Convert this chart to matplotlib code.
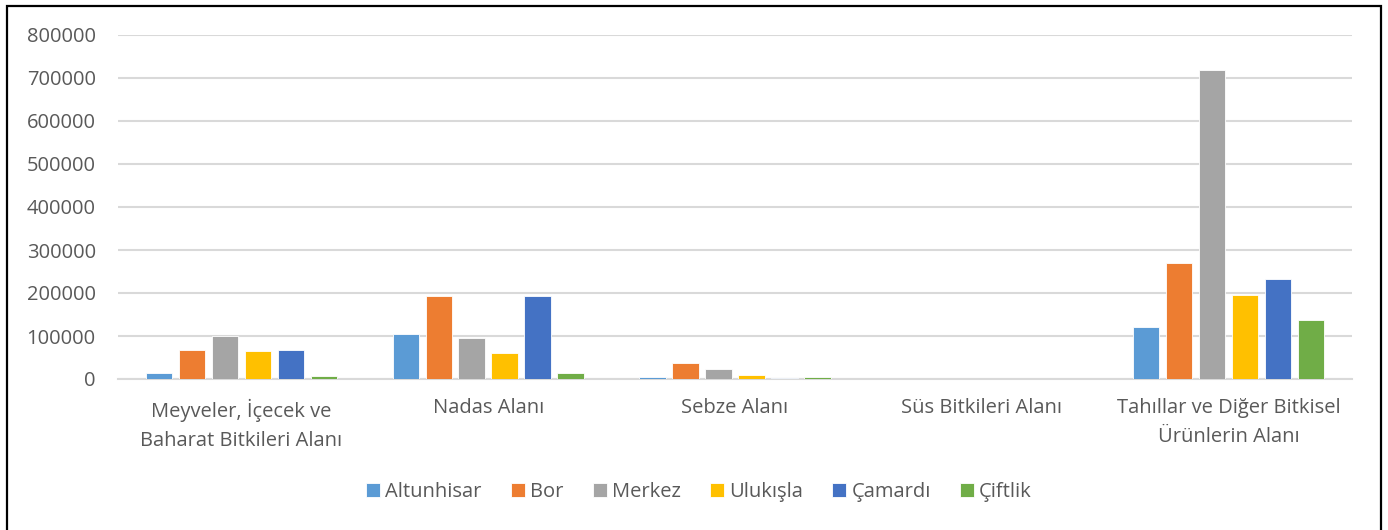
import matplotlib
matplotlib.use("Agg")
import matplotlib.pyplot as plt
import numpy as np
from matplotlib.patches import Rectangle

categories = ["Meyveler, İçecek ve\nBaharat Bitkileri Alanı", "Nadas Alanı", "Sebze Alanı",
              "Süs Bitkileri Alanı", "Tahıllar ve Diğer Bitkisel\nÜrünlerin Alanı"]
series_names = ["Altunhisar", "Bor", "Merkez", "Ulukışla", "Çamardı", "Çiftlik"]
altunhisar = [13000, 105000, 5500, 100, 120000]
bor = [68000, 193000, 38000, 300, 269000]
merkez = [101000, 95000, 22500, 200, 718000]
ulukisla = [64000, 61000, 8600, 100, 195000]
camardi = [68000, 193000, 3000, 100, 232000]
ciftlik = [6000, 15000, 4000, 100, 137000]
values = [altunhisar, bor, merkez, ulukisla, camardi, ciftlik]
colors = ["#5B9BD5", "#ED7D31", "#A5A5A5", "#FFC000", "#4472C4", "#70AD47"]
yticks = [0, 100000, 200000, 300000, 400000, 500000, 600000, 700000, 800000]

plt.rcParams['font.family'] = ['Open Sans', 'DejaVu Sans']

W, H = 1388, 530
fig = plt.figure(figsize=(W/100, H/100), dpi=100)
ax = fig.add_axes([118/W, 1-379/H, (1352-118)/W, (379-35)/H])

x = np.arange(len(categories))
step = 0.1337
width = 0.107
for i, (name, vals, c) in enumerate(zip(series_names, values, colors)):
    ax.bar(x + (i - 2.5)*step, vals, width=width, color=c, label=name, zorder=3,
           edgecolor='white', linewidth=0.6)

ax.set_xlim(-0.5, len(categories)-0.5)
ax.set_ylim(0, 800000)
ax.set_yticks(yticks)
ax.set_yticklabels([str(v) for v in yticks])
ax.set_xticks(x)
ax.set_xticklabels(categories, linespacing=1.6)
ax.grid(axis='y', color='#D9D9D9', linewidth=1.5, zorder=0)
for s in ['top', 'right', 'left']:
    ax.spines[s].set_visible(False)
ax.spines['bottom'].set_color('#D9D9D9')
ax.spines['bottom'].set_linewidth(1.5)
ax.tick_params(axis='both', length=0, colors='#595959', labelsize=14.5)
ax.tick_params(axis='y', pad=16)
ax.tick_params(axis='x', pad=14)
for t in ax.get_xticklabels():
    t.set_verticalalignment('top')

leg = fig.legend(loc='center', bbox_to_anchor=(699/W, 1-492/H), ncol=6, frameon=False,
                 fontsize=14.5, handlelength=0.7, handleheight=0.7, handletextpad=0.25,
                 columnspacing=1.45, labelcolor='#595959')

fig.patches.append(Rectangle((7/W, -0.1), (1381-7)/W, 1.1 - 6/H, transform=fig.transFigure,
                             fill=False, edgecolor='black', linewidth=1.6, figure=fig))

fig.savefig("out.png", dpi=100, facecolor='white')
